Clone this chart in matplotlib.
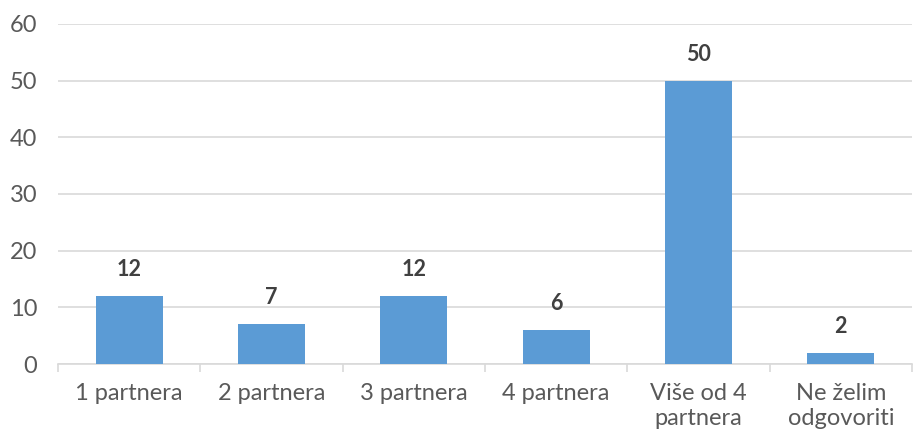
import matplotlib
matplotlib.use("Agg")
import matplotlib.pyplot as plt
import numpy as np

categories = ["1 partnera", "2 partnera", "3 partnera", "4 partnera", "Više od 4\npartnera", "Ne želim\nodgovoriti"]
values = [12, 7, 12, 6, 50, 2]
yticks = [0, 10, 20, 30, 40, 50, 60]

plt.rcParams['font.family'] = ['Lato', 'DejaVu Sans']

fig = plt.figure(figsize=(9.16, 4.36), dpi=100)
ax = fig.add_axes([58/916, (436-364)/436, (912-58)/916, (364-24)/436])

x = np.arange(len(categories))
bars = ax.bar(x, values, width=0.47, color="#5B9BD5", zorder=3)
for xi, v in zip(x, values):
    ax.annotate(str(v), (xi, v), xytext=(0, 19), textcoords="offset points",
                ha="center", va="center", fontsize=15.5, fontweight="bold", color="#404040")

ax.set_xlim(-0.5, len(categories) - 0.5)
ax.set_ylim(0, 60)
ax.set_yticks(yticks)
ax.set_yticklabels([str(t) for t in yticks])
ax.grid(axis="y", color="#D9D9D9", linewidth=1.2, zorder=0)
for s in ["top", "right", "left"]:
    ax.spines[s].set_visible(False)
ax.spines["bottom"].set_color("#D9D9D9")
ax.spines["bottom"].set_linewidth(1.2)
ax.tick_params(axis="y", length=0, labelsize=17, labelcolor="#595959", pad=15)
ax.set_xticks(x)
ax.set_xticklabels(categories)
ax.tick_params(axis="x", length=0, labelsize=17, labelcolor="#595959", pad=14)
ax.set_xticks(np.arange(len(categories) + 1) - 0.5, minor=True)
ax.tick_params(axis="x", which="minor", length=6, color="#D9D9D9", width=1.2)
for lbl in ax.get_xticklabels():
    lbl.set_linespacing(1.2)

fig.savefig("out.png", dpi=100)
